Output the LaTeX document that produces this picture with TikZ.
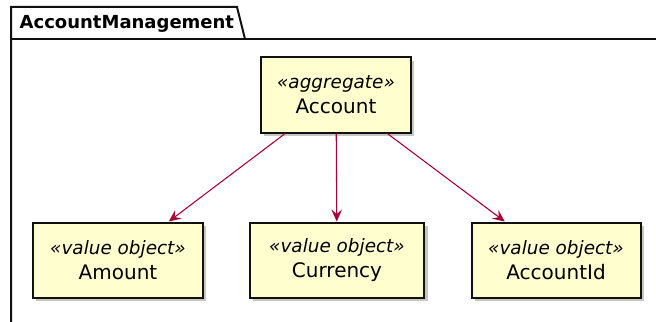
\documentclass[tikz,border=0pt]{standalone}
\usepackage{fontspec}
\setmainfont{DejaVu Sans}
\usepackage{xcolor}
\definecolor{umlfill}{HTML}{FEFECE}
\definecolor{umlline}{HTML}{A80036}
\definecolor{umlborder}{HTML}{101010}
\usetikzlibrary{arrows.meta,positioning,shadows}
\tikzset{
  classbox/.style={draw=umlborder,line width=1.5pt,fill=umlfill,
    align=center,inner sep=0pt,minimum height=56.25pt,
    font=\fontsize{15pt}{19pt}\selectfont,
    drop shadow={shadow xshift=2.5pt,shadow yshift=-2.5pt,opacity=0.45}},
  assoc/.style={-{Stealth[length=9pt,width=8pt,inset=3.5pt]},umlline,line width=0.8pt}
}
\newcommand{\stereo}[1]{{\itshape\fontsize{13.8pt}{19pt}\selectfont «#1»}}

\begin{document}
\begin{tikzpicture}[x=0.75pt,y=-0.75pt]
  \useasboundingbox (0,0) rectangle (656,321);

  %% Package frame with tab
  \draw[umlborder,line width=1.5pt] (11,330) -- (11,7) -- (237,7) -- (245,39);
  \draw[umlborder,line width=1.5pt] (11,39) -- (660,39);
  \node[font=\bfseries\fontsize{13.5pt}{15pt}\selectfont,anchor=base west]
    (pkg) at (15,29) {AccountManagement};

  %% Aggregate root
  \node[classbox,minimum width=112.5pt] (account) at (336,95)
    {\stereo{aggregate}\\Account};

  %% Value objects
  \node[classbox,minimum width=127.5pt] (amount) at (118,260)
    {\stereo{value object}\\Amount};
  \node[classbox,minimum width=131pt] (currency) at (337,260)
    {\stereo{value object}\\Currency};
  \node[classbox,minimum width=126.75pt] (accountid) at (556,260)
    {\stereo{value object}\\AccountId};

  %% Associations
  \draw[assoc] (account) -- (amount);
  \draw[assoc] (account) -- (currency);
  \draw[assoc] (account) -- (accountid);
\end{tikzpicture}
\end{document}
